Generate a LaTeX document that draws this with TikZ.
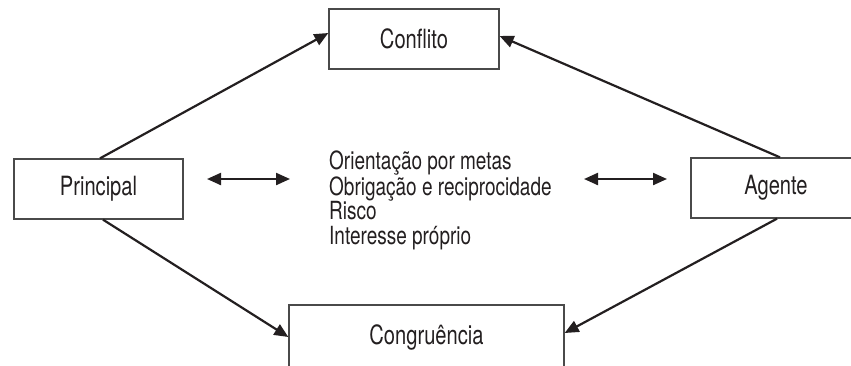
\documentclass[tikz,border=0pt]{standalone}
\usepackage{fontspec}
\setmainfont{TeX Gyre Heros}[FakeStretch=0.76]
\usetikzlibrary{arrows.meta}
\definecolor{ink}{HTML}{231F20}
\definecolor{frame}{HTML}{4A4A4A}
\tikzset{
  box/.style={draw=frame, line width=1.3pt, rectangle, inner sep=0pt, text=ink, font=\fontsize{26.5}{30}\selectfont},
  conn/.style={draw=ink, line width=2.2pt, -{Triangle[length=14pt,width=12pt]}},
  dbl/.style={draw=ink, line width=2.2pt, {Triangle[length=14pt,width=12pt]}-{Triangle[length=14pt,width=12pt]}},
}
\begin{document}
\begin{tikzpicture}[x=1pt,y=-1pt]
\useasboundingbox (0,0) rectangle (851,365);
\node[box, minimum width=170pt, minimum height=60pt] (C) at (414,39) {Conflito};
\node[box, minimum width=169pt, minimum height=60pt] (P) at (98.5,189) {Principal};
\node[box, minimum width=170pt, minimum height=60pt] (A) at (776,188) {Agente};
\node[box, minimum width=275pt, minimum height=64pt] (G) at (426.5,337) {Congruência};
\node[anchor=base west, inner sep=0pt, align=left, text=ink, font=\fontsize{25}{24.3}\selectfont] (F) at (329,244)
  {Orientação por metas\\Obrigação e reciprocidade\\Risco\\Interesse próprio};
\coordinate (l1) at (207,179);
\coordinate (l2) at (290,179);
\coordinate (r1) at (584,179);
\coordinate (r2) at (667,179);
\draw[conn] ([xshift=1.5pt]P.north) -- ([yshift=6pt]C.west);
\draw[conn] ([xshift=4.5pt]P.south) -- (G.west);
\draw[conn] ([xshift=4pt]A.north) -- ([yshift=3pt]C.east);
\draw[conn] ([xshift=1pt]A.south) -- ([yshift=4pt]G.east);
\draw[dbl] (l1) -- (l2);
\draw[dbl] (r1) -- (r2);
\end{tikzpicture}
\end{document}
